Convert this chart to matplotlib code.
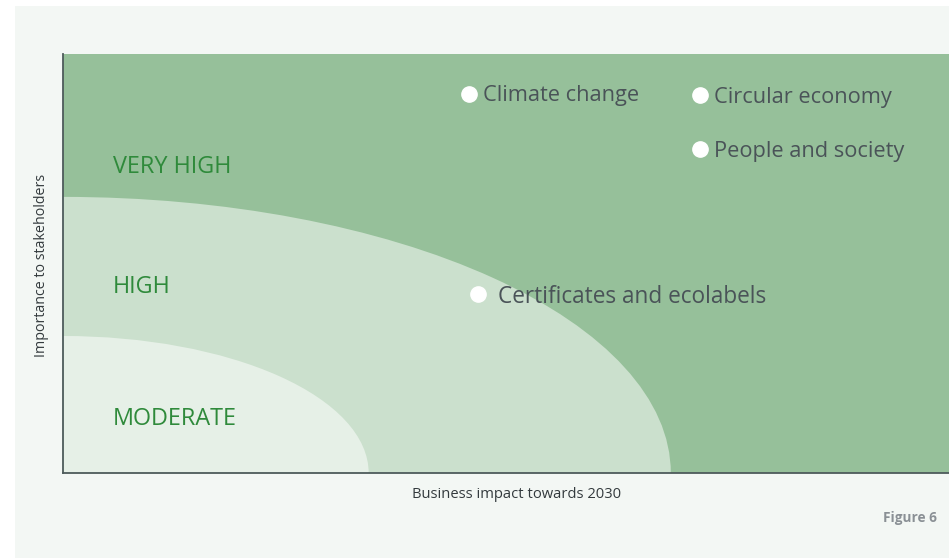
import matplotlib
matplotlib.use("Agg")
import matplotlib.pyplot as plt
from matplotlib.patches import Ellipse, Rectangle

plt.rcParams['font.family'] = ['Open Sans', 'DejaVu Sans']

# materiality topics (x = business impact, y = importance to stakeholders)
topics = ["Climate change", "Circular economy", "People and society",
          "Certificates and ecolabels"]
impact = [4.58, 7.19, 7.19, 4.68]
importance = [9.05, 9.02, 7.73, 4.27]

# zones drawn as quarter ellipses from the origin (radius x, radius y)
zones = ["VERY HIGH", "HIGH", "MODERATE"]
zone_rx = [None, 6.86, 3.45]
zone_ry = [None, 6.59, 3.27]
zone_label_y = [7.16, 4.30, 1.15]

W, H = 949, 558
fig = plt.figure(figsize=(W / 100, H / 100), dpi=100)
fig.patch.set_facecolor("white")
fig.patches.append(Rectangle((15 / W, 0), 1, (H - 6) / H, transform=fig.transFigure,
                             facecolor="#f3f7f4", edgecolor="none", zorder=-10))

ax = fig.add_axes([63 / W, (H - 473) / H, 886 / W, 419 / H])
ax.set_xlim(0, 10)
ax.set_ylim(0, 10)
ax.set_facecolor("#96c09a")

fills = ["#96c09a", "#cbe0cd", "#e6f0e7"]
for rx, ry, c in zip(zone_rx, zone_ry, fills):
    if rx is None:
        continue
    ax.add_patch(Ellipse((0, 0), 2 * rx, 2 * ry, facecolor=c, edgecolor="none", zorder=1))

for name, ly in zip(zones, zone_label_y):
    ax.text(0.56, ly, name, color="#2f8a3b", fontsize=16.8, va="baseline", ha="left", zorder=3)

ax.plot(impact, importance, "o", color="white", markersize=11, zorder=4)
offsets = [0.16, 0.16, 0.16, 0.23]
drops = [0.17, 0.19, 0.19, 0.22]
for name, x, y, dx, dy in zip(topics, impact, importance, offsets, drops):
    fs = 16.3 if name.startswith("Cert") else 15.7
    ax.text(x + dx, y - dy, name, color="#4a5358", fontsize=fs, va="baseline", ha="left",
            zorder=4)

for s in ["top", "right"]:
    ax.spines[s].set_visible(False)
for s in ["left", "bottom"]:
    ax.spines[s].set_color("#4d5b5b")
    ax.spines[s].set_linewidth(1.3)
    ax.spines[s].set_zorder(5)
ax.set_xticks([])
ax.set_yticks([])

fig.text(517 / W, 1 - 495 / H, "Business impact towards 2030", ha="center", va="center",
         fontsize=10.6, color="#333a3d")
fig.text(42 / W, 1 - 265 / H, "Importance to stakeholders", ha="center", va="center",
         rotation=90, fontsize=10.3, color="#333a3d")
fig.text(937 / W, 1 - 518 / H, "Figure 6", ha="right", va="center", fontsize=9.8,
         fontweight="bold", color="#8a9095")

fig.savefig("out.png", dpi=100)
